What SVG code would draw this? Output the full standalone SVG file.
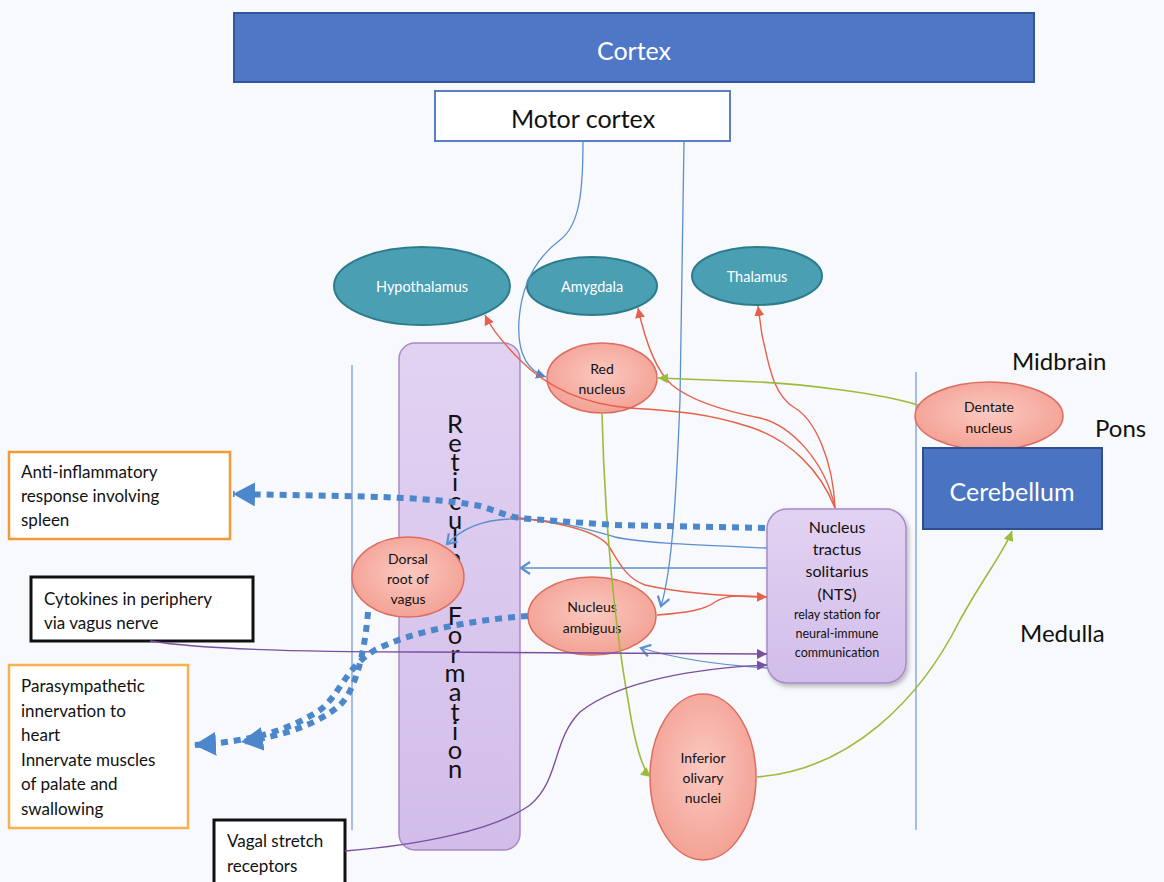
<svg xmlns="http://www.w3.org/2000/svg" width="1164" height="882" viewBox="0 0 1164 882">
<style>
text{font-family:Lato,"Liberation Sans",sans-serif;fill:#111}
.w{fill:#fff}
.c{text-anchor:middle}
.vert{writing-mode:vertical-rl;text-orientation:upright}
.teal{fill:#4b9fb3;stroke:#2d7c8e;stroke-width:2}
.salmon{fill:url(#sg);stroke:#dc6c60;stroke-width:1.5}
.lav{fill:url(#lg);stroke:#a68bc8;stroke-width:1.5}
.blue{fill:none;stroke:#5b8fd0;stroke-width:1.3}
.dot{fill:none;stroke:#4c86cb;stroke-width:6;stroke-dasharray:7 6}
.red{fill:none;stroke:#e6614a;stroke-width:1.4}
.grn{fill:none;stroke:#9cbb3c;stroke-width:1.6}
.pur{fill:none;stroke:#7b4f9f;stroke-width:1.4}
.guide{stroke:#6f95d2;stroke-width:1.2}
</style>
<defs>
<radialGradient id="sg" cx="50%" cy="45%" r="60%"><stop offset="0" stop-color="#fbc9c1"/><stop offset="1" stop-color="#f39e91"/></radialGradient>
<linearGradient id="lg" x1="0" y1="0" x2="0" y2="1"><stop offset="0" stop-color="#e2d2f2"/><stop offset="1" stop-color="#d2bdea"/></linearGradient>
<filter id="sh" x="-10%" y="-10%" width="130%" height="130%"><feDropShadow dx="2" dy="3" stdDeviation="2" flood-color="#000" flood-opacity="0.25"/></filter>
<marker id="aRed" markerWidth="12" markerHeight="10" refX="10" refY="5" orient="auto" markerUnits="userSpaceOnUse"><path d="M0,0 L10,5 L0,10 z" fill="#e6614a"/></marker>
<marker id="aGrn" markerWidth="12" markerHeight="10" refX="10" refY="5" orient="auto" markerUnits="userSpaceOnUse"><path d="M0,0 L10,5 L0,10 z" fill="#9cbb3c"/></marker>
<marker id="aPur" markerWidth="12" markerHeight="10" refX="10" refY="5" orient="auto" markerUnits="userSpaceOnUse"><path d="M0,0 L10,5 L0,10 z" fill="#7b4f9f"/></marker>
<marker id="aBlu" markerWidth="12" markerHeight="10" refX="10" refY="5" orient="auto" markerUnits="userSpaceOnUse"><path d="M0,0 L10,5 L0,10 z" fill="#4c86cb"/></marker>
<marker id="aOpen" markerWidth="12" markerHeight="14" refX="10" refY="7" orient="auto" markerUnits="userSpaceOnUse"><path d="M1,1 L10,7 L1,13" fill="none" stroke="#5b8fd0" stroke-width="2.2"/></marker>
<marker id="aBig" markerWidth="26" markerHeight="26" refX="22" refY="12" orient="auto" markerUnits="userSpaceOnUse"><path d="M0,0 L22,12 L0,24 z" fill="#4c86cb"/></marker>
</defs>
<rect width="1164" height="882" fill="#f7f9fc"/>

<g id="guides">
<line class="guide" x1="352" y1="365" x2="352" y2="830"/>
<line class="guide" x1="916" y1="372" x2="916" y2="830"/>
</g>

<g id="cortex">
<rect x="234" y="13" width="800" height="69" fill="#4f77c6" stroke="#33559a" stroke-width="2"/>
<text class="w c" x="634" y="60" font-size="25">Cortex</text>
</g>
<g id="motor-cortex">
<rect x="435" y="91" width="295" height="50" fill="#fff" stroke="#5b7fc7" stroke-width="2"/>
<text class="c" x="583" y="128" font-size="25">Motor cortex</text>
</g>
<g id="hypothalamus">
<ellipse class="teal" cx="422" cy="286" rx="88" ry="39"/>
<text class="w c" x="422" y="292" font-size="14.5">Hypothalamus</text>
</g>
<g id="amygdala">
<ellipse class="teal" cx="592" cy="286" rx="65" ry="29"/>
<text class="w c" x="592" y="292" font-size="14.5">Amygdala</text>
</g>
<g id="thalamus">
<ellipse class="teal" cx="757" cy="276" rx="65" ry="29"/>
<text class="w c" x="757" y="282" font-size="14.5">Thalamus</text>
</g>
<g id="reticular-formation">
<rect x="399" y="343" width="121" height="507" rx="16" class="lav"/>
<text class="vert" x="455" y="408" font-size="25.5" textLength="375" lengthAdjust="spacing">Reticular Formation</text>
</g>
<g id="red-nucleus">
<ellipse class="salmon" cx="602" cy="378" rx="55" ry="35"/>
<text class="c" x="602" y="374" font-size="14">Red</text>
<text class="c" x="602" y="394" font-size="14">nucleus</text>
</g>
<g id="dorsal-root">
<ellipse class="salmon" cx="408" cy="577" rx="56" ry="40"/>
<text class="c" x="408" y="564" font-size="14">Dorsal</text>
<text class="c" x="408" y="584" font-size="14">root of</text>
<text class="c" x="408" y="604" font-size="14">vagus</text>
</g>
<g id="nucleus-ambiguus">
<ellipse class="salmon" cx="592" cy="616" rx="64" ry="39"/>
<text class="c" x="592" y="612" font-size="14">Nucleus</text>
<text class="c" x="592" y="633" font-size="14">ambiguus</text>
</g>
<g id="nts">
<rect x="767" y="509" width="139" height="174" rx="20" class="lav" filter="url(#sh)"/>
<text class="c" x="837" y="533" font-size="16">Nucleus</text>
<text class="c" x="837" y="555" font-size="16">tractus</text>
<text class="c" x="837" y="577" font-size="16">solitarius</text>
<text class="c" x="837" y="600" font-size="16">(NTS)</text>
<text class="c" x="837" y="619" font-size="12.5">relay station for</text>
<text class="c" x="837" y="638" font-size="12.5">neural-immune</text>
<text class="c" x="837" y="657" font-size="12.5">communication</text>
</g>
<g id="dentate-nucleus">
<ellipse class="salmon" cx="989" cy="416" rx="74" ry="34"/>
<text class="c" x="989" y="412" font-size="14">Dentate</text>
<text class="c" x="989" y="433" font-size="14">nucleus</text>
</g>
<g id="cerebellum">
<rect x="923" y="448" width="179" height="81" fill="#4a73c1" stroke="#2f4f8f" stroke-width="2"/>
<text class="w c" x="1012" y="501" font-size="25">Cerebellum</text>
</g>
<g id="inferior-olivary">
<ellipse class="salmon" cx="703" cy="777" rx="53" ry="83"/>
<text class="c" x="703" y="763" font-size="14">Inferior</text>
<text class="c" x="703" y="783" font-size="14">olivary</text>
<text class="c" x="703" y="803" font-size="14">nuclei</text>
</g>
<g id="region-labels">
<text x="1012" y="370" font-size="24">Midbrain</text>
<text x="1095" y="437" font-size="24">Pons</text>
<text x="1020" y="642" font-size="24">Medulla</text>
</g>
<g id="anti-inflammatory">
<rect x="9" y="452" width="221" height="87" fill="#fff" stroke="#f29a38" stroke-width="2.5"/>
<text x="21" y="478" font-size="17">Anti-inflammatory</text>
<text x="21" y="502" font-size="17">response involving</text>
<text x="21" y="526" font-size="17">spleen</text>
</g>
<g id="cytokines">
<rect x="31" y="577" width="222" height="64" fill="#fff" stroke="#111" stroke-width="3"/>
<text x="44" y="605" font-size="17">Cytokines in periphery</text>
<text x="44" y="629" font-size="17">via vagus nerve</text>
</g>
<g id="parasympathetic">
<rect x="9" y="665" width="179" height="163" fill="#fff" stroke="#f7b24f" stroke-width="2.5"/>
<text x="21" y="692" font-size="17">Parasympathetic</text>
<text x="21" y="717" font-size="17">innervation to</text>
<text x="21" y="741" font-size="17">heart</text>
<text x="21" y="766" font-size="17">Innervate muscles</text>
<text x="21" y="790" font-size="17">of palate and</text>
<text x="21" y="815" font-size="17">swallowing</text>
</g>
<g id="vagal-stretch">
<rect x="214" y="820" width="131" height="70" fill="#fff" stroke="#111" stroke-width="3"/>
<text x="227" y="847" font-size="17">Vagal stretch</text>
<text x="227" y="872" font-size="17">receptors</text>
</g>

<g id="connectors">
<path class="blue" d="M583,141 C583,190 580,225 560,240 C540,255 522,280 519,320 C517,350 525,370 546,377" marker-end="url(#aBlu)"/>
<path class="blue" d="M684,141 L680,400 C676,500 672,570 661,606" marker-end="url(#aOpen)"/>
<path class="blue" d="M767,548 C700,545 640,543 615,537 C590,530 560,520 520,519 C490,518 465,525 447,544" marker-end="url(#aOpen)"/>
<path class="blue" d="M767,568 L521,568" marker-end="url(#aOpen)"/>
<path class="blue" d="M767,668 C720,665 680,660 641,648" marker-end="url(#aOpen)"/>
<path class="red" d="M835,508 C833,460 815,420 795,408 C772,395 768,360 762,335 L758,306" marker-end="url(#aRed)"/>
<path class="red" d="M835,508 C825,460 790,425 760,418 C720,410 690,400 672,385 C655,370 645,340 638,308" marker-end="url(#aRed)"/>
<path class="red" d="M835,508 C820,470 790,440 750,427 C710,414 680,411 630,408 C580,404 545,385 520,360 C505,345 492,330 485,315" marker-end="url(#aRed)"/>
<path class="red" d="M510,517 C560,522 595,530 608,545 C618,560 625,578 645,585 C680,593 720,596 767,597" marker-end="url(#aRed)"/>
<path class="red" d="M657,615 C685,613 705,610 715,602 C728,594 740,596 766,597"/>
<path class="grn" d="M918,405 C880,393 800,384 760,382 L658,378" marker-end="url(#aGrn)"/>
<path class="grn" d="M602,413 C604,500 612,610 628,700 C635,745 642,770 651,777" marker-end="url(#aGrn)"/>
<path class="grn" d="M757,777 C850,770 920,700 960,620 C985,575 1005,550 1012,531" marker-end="url(#aGrn)"/>
<path class="pur" d="M150,641 C200,649 300,652 420,652 L767,654" marker-end="url(#aPur)"/>
<path class="pur" d="M345,851 C420,845 495,830 530,805 C560,780 552,740 580,712 C620,680 700,668 767,665" marker-end="url(#aPur)"/>
<path class="dot" d="M765,528 L615,525 C570,522 540,520 520,518 C505,516 495,510 480,506 C450,500 400,497 343,496 L233,494" marker-end="url(#aBig)"/>
<path class="dot" d="M368,612 C365,650 356,690 340,705 C320,722 290,735 241,742" marker-end="url(#aBig)"/>
<path class="dot" d="M528,616 C470,620 410,632 375,650 C345,668 340,695 320,710 C290,730 250,742 194,745" marker-end="url(#aBig)"/>
</g>
</svg>
